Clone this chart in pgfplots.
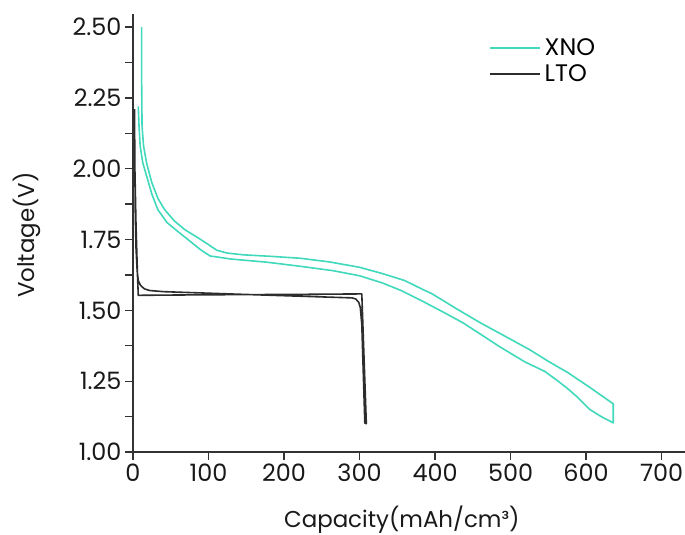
\documentclass[border=0pt]{standalone}
\usepackage{fontspec}
\setmainfont{Poppins}
\usepackage{pgfplots}
\pgfplotsset{compat=1.18}

\definecolor{xno}{RGB}{64,217,187}
\definecolor{lto}{RGB}{45,45,45}
\definecolor{axgray}{RGB}{51,51,51}

\begin{document}
\begin{tikzpicture}
\begin{axis}[
  scale only axis,
  width=552bp, height=438bp,
  xmin=0, xmax=731,
  ymin=1.0, ymax=2.546,
  axis x line*=bottom, axis y line*=left,
  axis line style={axgray, line width=1.7bp},
  xtick={0,100,...,700},
  ytick={1.00,1.25,...,2.50},
  minor y tick num=1,
  tick align=outside,
  major tick length=8bp, minor tick length=8bp,
  tick style={axgray, line width=1.3bp},
  /pgf/number format/assume math mode=true,
  yticklabel style={/pgf/number format/.cd, fixed, fixed zerofill, precision=2},
  xticklabel style={/pgf/number format/.cd, fixed, precision=0},
  every tick label/.append style={font=\fontsize{24}{26}\selectfont, text=black!90},
  xlabel={Capacity(mAh/cm³)},
  ylabel={Voltage(V)},
  every axis label/.append style={font=\fontsize{23}{26}\selectfont, text=black!90},
  x label style={at={(axis description cs:0.487,-0.155)}, anchor=center},
  y label style={at={(axis description cs:-0.192,0.495)}, anchor=center},
  legend style={draw=none, fill=none, at={(rel axis cs:0.645,0.9455)}, anchor=north west,
    font=\fontsize{24}{26}\selectfont, row sep=5bp, inner sep=0bp,
    nodes={inner xsep=3.5bp, inner ysep=1bp}},
  legend cell align=left,
  legend image code/.code={\draw[#1, line width=2bp] (0bp,0bp) -- (50bp,0bp);},
  clip=false,
]
% XNO: lower branch out to 636, then upper branch back
\addplot[xno, line width=1.6bp, line join=round] coordinates {
  (7,2.22) (8,2.15) (9.5,2.08) (13,2.02) (18.5,1.97) (25,1.91) (33,1.855)
  (45,1.81) (60,1.777) (75,1.745) (90,1.713) (102,1.692) (130,1.681)
  (177,1.670) (220,1.656) (265,1.640) (300,1.622) (330,1.597) (355,1.570)
  (380,1.537) (410,1.495) (437,1.456) (486,1.371) (519,1.318) (545,1.285)
  (561,1.254) (575,1.225) (588,1.195) (605,1.150) (620,1.125) (636,1.103)
  (636,1.170) (605,1.228) (576,1.280) (550,1.320) (526,1.360) (500,1.398)
  (460,1.456) (430,1.503) (395,1.560) (385,1.572) (360,1.605) (330,1.630)
  (300,1.652) (260,1.671) (221,1.684) (180,1.691) (146,1.696) (125,1.702)
  (111,1.712) (100,1.732) (85,1.758) (69,1.784) (55,1.815) (42,1.855)
  (33,1.895) (25,1.95) (18,2.02) (14,2.08) (12,2.15) (11.5,2.30) (11.5,2.50)
};
\addlegendentry{XNO}
% LTO: flat branch out, rounded branch back
\addplot[lto, line width=1.6bp, line join=round] coordinates {
  (2.5,2.00) (4,1.80) (6,1.62) (7,1.553) (100,1.555) (200,1.556) (303,1.558)
  (309,1.100)
  (307,1.102) (303,1.45) (301,1.51) (299,1.528) (295,1.540) (290,1.544)
  (150,1.556) (40,1.566) (22,1.570) (15,1.576) (10,1.588) (7,1.605)
  (5.5,1.64) (4,1.72) (3,1.85) (2.5,2.00) (2,2.21)
};
\addlegendentry{LTO}
\coordinate (a) at (rel axis cs:0,0);
\coordinate (b) at (rel axis cs:1,1);
\end{axis}
\pgfresetboundingbox
\path (a) ++(-133bp,-83bp) coordinate (c);
\path (b) ++(0bp,14bp) coordinate (d);
\useasboundingbox (c) rectangle (d);
\end{tikzpicture}
\end{document}
